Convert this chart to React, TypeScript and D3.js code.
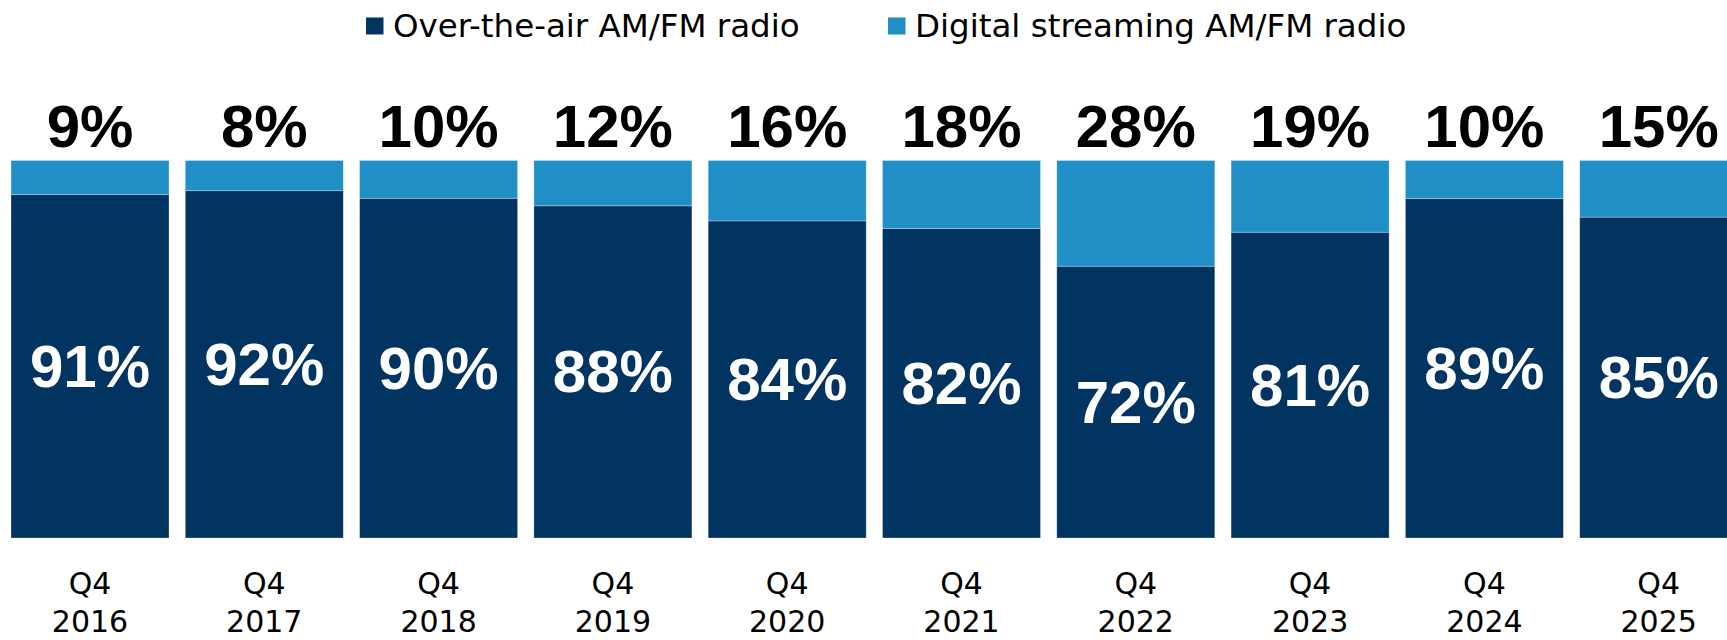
import React from "react";
import * as d3 from "d3";

const categories = ["Q4 2016", "Q4 2017", "Q4 2018", "Q4 2019", "Q4 2020", "Q4 2021", "Q4 2022", "Q4 2023", "Q4 2024", "Q4 2025"];
const overTheAir = [91, 92, 90, 88, 84, 82, 72, 81, 89, 85];
const digitalStreaming = [9, 8, 10, 12, 16, 18, 28, 19, 10, 15];
const seriesNames = ["Over-the-air AM/FM radio", "Digital streaming AM/FM radio"];
const seriesColors = ["#023461", "#208FC6"];

const W = 1727;
const H = 640;

export default function App() {
  const rows = categories.map((c, i) => ({ cat: c, ota: overTheAir[i], dig: digitalStreaming[i] }));
  const stack = d3.stack<any>().keys(["ota", "dig"]).offset(d3.stackOffsetExpand);
  const stacked = stack(rows);

  const x = d3.scaleBand<string>().domain(categories).range([11, 1737.7]).paddingInner(0.0935).paddingOuter(0);
  const y = d3.scaleLinear().domain([0, 1]).range([538, 160.5]);
  const bw = x.bandwidth();

  const legendX = [366, 888];

  return (
    <svg width={W} height={H} style={{ position: "absolute", left: 0, top: 0, overflow: "hidden", background: "#fff" }}>
      {/* legend */}
      {seriesNames.map((name, i) => (
        <g key={name}>
          <rect x={legendX[i]} y={17.5} width={17.5} height={17} fill={seriesColors[i]} />
          <text x={legendX[i] + 27} y={36.5} fontFamily="DejaVu Sans" fontSize={32.5} fill="#000">
            {name}
          </text>
        </g>
      ))}

      {/* bars */}
      {stacked.map((s, si) => (
        <g key={s.key}>
          {s.map((d, i) => (
            <rect
              key={i}
              x={x(categories[i])}
              y={y(d[1])}
              width={bw}
              height={y(d[0]) - y(d[1])}
              fill={seriesColors[si]}
              stroke="#ffffff"
              strokeOpacity={0.35}
              strokeWidth={0.8}
            />
          ))}
        </g>
      ))}

      {/* inner labels (over-the-air) */}
      {stacked[0].map((d, i) => (
        <text
          key={"in" + i}
          x={(x(categories[i]) as number) + bw / 2}
          y={(y(d[0]) + y(d[1])) / 2}
          textAnchor="middle"
          dominantBaseline="central"
          fontFamily="Liberation Sans, Arial, sans-serif"
          fontWeight="bold"
          fontSize={60}
          fill="#ffffff"
        >
          {overTheAir[i]}%
        </text>
      ))}

      {/* top labels (digital) */}
      {digitalStreaming.map((v, i) => (
        <text
          key={"top" + i}
          x={(x(categories[i]) as number) + bw / 2}
          y={y(1) - 13.5}
          textAnchor="middle"
          fontFamily="Liberation Sans, Arial, sans-serif"
          fontWeight="bold"
          fontSize={60}
          fill="#000"
        >
          {v}%
        </text>
      ))}

      {/* x axis labels */}
      {categories.map((c, i) => {
        const parts = c.split(" ");
        const cx = (x(c) as number) + bw / 2;
        return (
          <text key={"x" + i} x={cx} textAnchor="middle" fontFamily="DejaVu Sans" fontSize={30} fill="#000">
            <tspan x={cx} y={594}>{parts[0]}</tspan>
            <tspan x={cx} y={632}>{parts[1]}</tspan>
          </text>
        );
      })}
    </svg>
  );
}
